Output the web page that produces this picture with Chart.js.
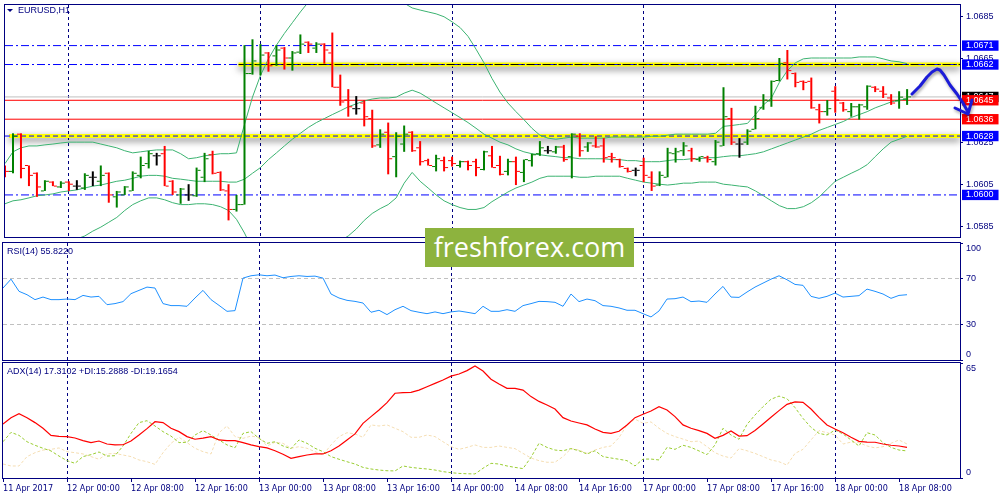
<!DOCTYPE html>
<html>
<head>
<meta charset="utf-8">
<title>EURUSD,H1</title>
<script src="https://cdn.jsdelivr.net/npm/chart.js@4.4.1/dist/chart.umd.min.js"></script>
<style>
  html, body { margin: 0; padding: 0; background: #fff; }
  #wrap { position: relative; width: 1000px; height: 500px; overflow: hidden; background: #fff; }
  #wrap canvas { position: absolute; left: 0; }
  .tag { position: absolute; left: 7px; font: 9px/11px "Liberation Sans", Arial, sans-serif; color: #000080; white-space: nowrap; }
  .tri { display: inline-block; width: 0; height: 0; border-left: 3px solid transparent; border-right: 3px solid transparent; border-top: 3px solid #000080; margin-right: 5px; vertical-align: 1px; }
  #logo { position: absolute; left: 425px; top: 228px; width: 209px; height: 39px; background: #8db33e; color: #fff; font: 27px/38px "Open Sans", sans-serif; text-align: center; }
  #arrow { position: absolute; left: 0; top: 0; filter: drop-shadow(1px 2px 1.5px rgba(0,0,0,0.35)); }
</style>
</head>
<body>
<div id="wrap">
  <canvas id="cMain" width="1000" height="242" style="top:0"></canvas>
  <canvas id="cRsi" width="1000" height="120" style="top:242px"></canvas>
  <canvas id="cAdx" width="1000" height="138" style="top:362px"></canvas>
  <div class="tag" style="top:5px"><span class="tri"></span>EURUSD,H1</div>
  <div class="tag" style="top:246px">RSI(14) 55.8220</div>
  <div class="tag" style="top:366px">ADX(14) 17.3102 +DI:15.2888 -DI:19.1654</div>
  <div id="logo">freshforex.com</div>
  <svg id="arrow" width="1000" height="500">
    <polyline points="912,94 920,86 927,77 932,72 937,69 940,70 944,75 950,85 957,94 963,103 968,112" fill="none" stroke="#1c1cd8" stroke-width="3" stroke-linecap="round" stroke-linejoin="round"/>
    <polyline points="955,108 968,114 972,100" fill="none" stroke="#1c1cd8" stroke-width="3" stroke-linecap="round" stroke-linejoin="round"/>
  </svg>
</div>
<script>
// ---- data (EURUSD H1, one entry per bar, bar 0 = 11 Apr 16:00) ----
const timeLabels = ['11 Apr 2017', '12 Apr 00:00', '12 Apr 08:00', '12 Apr 16:00', '13 Apr 00:00',
  '13 Apr 08:00', '13 Apr 16:00', '14 Apr 00:00', '14 Apr 08:00', '14 Apr 16:00', '17 Apr 00:00',
  '17 Apr 08:00', '17 Apr 16:00', '18 Apr 00:00', '18 Apr 08:00'];
const labelBars = [0, 8, 16, 24, 32, 40, 48, 56, 64, 72, 80, 88, 96, 104, 112];
const dayBars = [8, 32, 56, 80, 104];

const open = [
  1.06135, 1.06112, 1.06289, 1.06140, 1.06103, 1.06019, 1.06061, 1.06038, 1.06061, 1.06042,
  1.06033, 1.06084, 1.06065, 1.06103, 1.05991, 1.06000, 1.06019, 1.06093, 1.06149, 1.06186,
  1.06196, 1.06065, 1.06000, 1.06000, 1.05996, 1.06084, 1.06191, 1.06107, 1.06019, 1.05931,
  1.05954, 1.06577, 1.06619, 1.06675, 1.06661, 1.06698, 1.06651, 1.06679, 1.06726, 1.06698,
  1.06717, 1.06675, 1.06512, 1.06451, 1.06410, 1.06437, 1.06363, 1.06238, 1.06298, 1.06182,
  1.06242, 1.06298, 1.06224, 1.06163, 1.06135, 1.06163, 1.06163, 1.06140, 1.06158, 1.06158,
  1.06121, 1.06186, 1.06140, 1.06112, 1.06158, 1.06107, 1.06163, 1.06196, 1.06210, 1.06205,
  1.06228, 1.06182, 1.06279, 1.06228, 1.06233, 1.06233, 1.06182, 1.06168, 1.06126, 1.06117,
  1.06140, 1.06084, 1.06047, 1.06084, 1.06196, 1.06210, 1.06210, 1.06168, 1.06177, 1.06158,
  1.06233, 1.06363, 1.06242, 1.06251, 1.06312, 1.06414, 1.06447, 1.06544, 1.06628, 1.06577,
  1.06540, 1.06540, 1.06405, 1.06396, 1.06493, 1.06437, 1.06396, 1.06419, 1.06419, 1.06512,
  1.06493, 1.06461, 1.06447, 1.06456];
const high = [
  1.06140, 1.06293, 1.06293, 1.06140, 1.06107, 1.06070, 1.06065, 1.06065, 1.06065, 1.06070,
  1.06103, 1.06112, 1.06140, 1.06107, 1.06019, 1.06042, 1.06112, 1.06182, 1.06210, 1.06200,
  1.06233, 1.06070, 1.06033, 1.06051, 1.06130, 1.06200, 1.06210, 1.06112, 1.06051, 1.06000,
  1.06712, 1.06740, 1.06717, 1.06679, 1.06712, 1.06703, 1.06684, 1.06763, 1.06730, 1.06726,
  1.06721, 1.06772, 1.06572, 1.06503, 1.06470, 1.06451, 1.06405, 1.06312, 1.06344, 1.06298,
  1.06330, 1.06303, 1.06256, 1.06172, 1.06191, 1.06182, 1.06182, 1.06163, 1.06163, 1.06172,
  1.06210, 1.06233, 1.06186, 1.06172, 1.06182, 1.06168, 1.06196, 1.06256, 1.06233, 1.06233,
  1.06238, 1.06293, 1.06293, 1.06251, 1.06279, 1.06270, 1.06200, 1.06172, 1.06130, 1.06130,
  1.06177, 1.06112, 1.06112, 1.06224, 1.06224, 1.06251, 1.06224, 1.06182, 1.06186, 1.06261,
  1.06512, 1.06414, 1.06270, 1.06312, 1.06424, 1.06479, 1.06544, 1.06651, 1.06689, 1.06582,
  1.06544, 1.06558, 1.06433, 1.06451, 1.06517, 1.06442, 1.06437, 1.06433, 1.06521, 1.06517,
  1.06517, 1.06479, 1.06493, 1.06503];
const low = [
  1.06084, 1.06103, 1.06079, 1.06042, 1.05991, 1.06019, 1.06042, 1.06033, 1.06019, 1.06024,
  1.06024, 1.06042, 1.06042, 1.05963, 1.05940, 1.06000, 1.06019, 1.06079, 1.06126, 1.06140,
  1.06042, 1.06000, 1.05958, 1.05972, 1.05991, 1.06061, 1.06098, 1.06019, 1.05879, 1.05921,
  1.05954, 1.06572, 1.06568, 1.06586, 1.06614, 1.06596, 1.06591, 1.06670, 1.06675, 1.06675,
  1.06624, 1.06512, 1.06424, 1.06372, 1.06382, 1.06326, 1.06224, 1.06224, 1.06098, 1.06084,
  1.06205, 1.06205, 1.06140, 1.06140, 1.06112, 1.06112, 1.06135, 1.06130, 1.06117, 1.06089,
  1.06117, 1.06130, 1.06093, 1.06093, 1.06047, 1.06061, 1.06135, 1.06186, 1.06196, 1.06196,
  1.06158, 1.06079, 1.06182, 1.06205, 1.06224, 1.06154, 1.06154, 1.06130, 1.06107, 1.06089,
  1.06061, 1.06019, 1.06042, 1.06084, 1.06154, 1.06186, 1.06158, 1.06158, 1.06154, 1.06140,
  1.06233, 1.06238, 1.06177, 1.06238, 1.06312, 1.06405, 1.06419, 1.06540, 1.06549, 1.06512,
  1.06498, 1.06410, 1.06340, 1.06377, 1.06391, 1.06396, 1.06372, 1.06358, 1.06405, 1.06489,
  1.06461, 1.06428, 1.06410, 1.06428];
const close = [
  1.06112, 1.06279, 1.06126, 1.06093, 1.06038, 1.06065, 1.06042, 1.06056, 1.06051, 1.06042,
  1.06093, 1.06084, 1.06093, 1.06000, 1.06014, 1.06038, 1.06103, 1.06140, 1.06196, 1.06186,
  1.06042, 1.06014, 1.06028, 1.06000, 1.06117, 1.06172, 1.06103, 1.06024, 1.05931, 1.05954,
  1.06577, 1.06637, 1.06665, 1.06614, 1.06689, 1.06651, 1.06675, 1.06717, 1.06717, 1.06717,
  1.06689, 1.06512, 1.06442, 1.06419, 1.06410, 1.06372, 1.06233, 1.06289, 1.06172, 1.06279,
  1.06289, 1.06210, 1.06158, 1.06140, 1.06172, 1.06130, 1.06149, 1.06158, 1.06140, 1.06130,
  1.06205, 1.06130, 1.06098, 1.06158, 1.06112, 1.06168, 1.06191, 1.06224, 1.06210, 1.06228,
  1.06168, 1.06289, 1.06210, 1.06247, 1.06228, 1.06177, 1.06177, 1.06135, 1.06112, 1.06117,
  1.06093, 1.06042, 1.06093, 1.06200, 1.06205, 1.06233, 1.06172, 1.06182, 1.06168, 1.06251,
  1.06372, 1.06251, 1.06242, 1.06303, 1.06363, 1.06451, 1.06540, 1.06624, 1.06591, 1.06535,
  1.06535, 1.06414, 1.06396, 1.06410, 1.06451, 1.06405, 1.06419, 1.06428, 1.06517, 1.06503,
  1.06479, 1.06437, 1.06465, 1.06466];

// Bollinger bands (20, 2)
const bbUpper = [
  1.06149, 1.06205, 1.06224, 1.06233, 1.06233, 1.06238, 1.06242, 1.06247, 1.06251, 1.06251,
  1.06251, 1.06251, 1.06242, 1.06233, 1.06224, 1.06210, 1.06200, 1.06205, 1.06210, 1.06214,
  1.06214, 1.06214, 1.06196, 1.06172, 1.06177, 1.06186, 1.06191, 1.06196, 1.06196, 1.06200,
  1.06335, 1.06465, 1.06568, 1.06647, 1.06712, 1.06768, 1.06819, 1.06870, 1.06917, 1.06954,
  1.06982, 1.07005, 1.07019, 1.07028, 1.07033, 1.07028, 1.07019, 1.07000, 1.06972, 1.06944,
  1.06912, 1.06889, 1.06879, 1.06870, 1.06861, 1.06847, 1.06823, 1.06796, 1.06754, 1.06693,
  1.06628, 1.06554, 1.06489, 1.06437, 1.06396, 1.06358, 1.06317, 1.06284, 1.06270, 1.06265,
  1.06270, 1.06275, 1.06270, 1.06270, 1.06270, 1.06270, 1.06275, 1.06275, 1.06275, 1.06275,
  1.06275, 1.06279, 1.06279, 1.06284, 1.06289, 1.06289, 1.06289, 1.06289, 1.06289, 1.06293,
  1.06326, 1.06330, 1.06335, 1.06340, 1.06382, 1.06428, 1.06461, 1.06535, 1.06591, 1.06628,
  1.06647, 1.06651, 1.06651, 1.06651, 1.06651, 1.06651, 1.06651, 1.06656, 1.06656, 1.06656,
  1.06647, 1.06637, 1.06633, 1.06624];
const bbMiddle = [
  1.05958, 1.05972, 1.05977, 1.05986, 1.05996, 1.06000, 1.06005, 1.06014, 1.06019, 1.06024,
  1.06033, 1.06042, 1.06047, 1.06056, 1.06065, 1.06070, 1.06079, 1.06089, 1.06093, 1.06093,
  1.06089, 1.06079, 1.06075, 1.06070, 1.06065, 1.06065, 1.06065, 1.06065, 1.06061, 1.06061,
  1.06075, 1.06103, 1.06130, 1.06168, 1.06200, 1.06233, 1.06265, 1.06293, 1.06321, 1.06344,
  1.06363, 1.06382, 1.06400, 1.06419, 1.06433, 1.06447, 1.06456, 1.06461, 1.06461, 1.06465,
  1.06484, 1.06498, 1.06484, 1.06461, 1.06437, 1.06414, 1.06391, 1.06368, 1.06344, 1.06317,
  1.06289, 1.06270, 1.06251, 1.06238, 1.06219, 1.06205, 1.06196, 1.06191, 1.06186, 1.06182,
  1.06177, 1.06177, 1.06172, 1.06172, 1.06172, 1.06172, 1.06168, 1.06168, 1.06163, 1.06163,
  1.06158, 1.06158, 1.06158, 1.06163, 1.06168, 1.06168, 1.06172, 1.06172, 1.06177, 1.06177,
  1.06182, 1.06186, 1.06186, 1.06191, 1.06196, 1.06205, 1.06219, 1.06233, 1.06247, 1.06261,
  1.06275, 1.06289, 1.06307, 1.06321, 1.06335, 1.06349, 1.06368, 1.06382, 1.06396, 1.06414,
  1.06428, 1.06442, 1.06451, 1.06456];
const bbLower = [
  1.05731, 1.05717, 1.05717, 1.05726, 1.05735, 1.05744, 1.05754, 1.05768, 1.05777, 1.05791,
  1.05805, 1.05828, 1.05847, 1.05870, 1.05893, 1.05926, 1.05954, 1.05972, 1.05986, 1.05986,
  1.05977, 1.05963, 1.05954, 1.05954, 1.05958, 1.05958, 1.05954, 1.05944, 1.05926, 1.05884,
  1.05819, 1.05740, 1.05693, 1.05689, 1.05689, 1.05698, 1.05712, 1.05717, 1.05726, 1.05735,
  1.05744, 1.05758, 1.05782, 1.05805, 1.05838, 1.05879, 1.05912, 1.05935, 1.05954, 1.05986,
  1.06056, 1.06107, 1.06065, 1.06033, 1.06000, 1.05972, 1.05954, 1.05940, 1.05931, 1.05931,
  1.05940, 1.05968, 1.05991, 1.06014, 1.06033, 1.06047, 1.06061, 1.06079, 1.06089, 1.06089,
  1.06089, 1.06089, 1.06084, 1.06084, 1.06089, 1.06089, 1.06089, 1.06089, 1.06079, 1.06070,
  1.06061, 1.06056, 1.06051, 1.06047, 1.06051, 1.06056, 1.06056, 1.06061, 1.06061, 1.06061,
  1.06051, 1.06047, 1.06042, 1.06038, 1.06019, 1.05996, 1.05972, 1.05949, 1.05935, 1.05935,
  1.05944, 1.05963, 1.05991, 1.06028, 1.06065, 1.06084, 1.06103, 1.06121, 1.06144, 1.06182,
  1.06219, 1.06251, 1.06265, 1.06279];

const rsi = [
  61.5, 69.1, 58.7, 55.8, 51.6, 53.8, 51.6, 51.6, 52.1, 51.6,
  55.2, 53.8, 54.4, 47.3, 48.2, 49.9, 56.7, 59.5, 62.3, 61.5,
  48.2, 46.5, 46.5, 45.9, 53.0, 59.5, 51.6, 46.7, 41.6, 42.2,
  70.0, 72.0, 72.8, 72.0, 72.6, 70.3, 71.4, 72.0, 71.4, 71.7,
  70.0, 56.4, 53.0, 51.0, 50.1, 48.7, 40.8, 42.5, 38.8, 43.0,
  45.9, 42.2, 40.8, 39.6, 41.1, 39.6, 41.1, 41.9, 40.8, 39.6,
  45.9, 41.6, 41.6, 43.0, 41.6, 46.5, 48.2, 50.1, 49.9, 49.3,
  45.9, 56.4, 49.9, 52.1, 50.7, 46.5, 45.9, 44.5, 42.5, 42.5,
  39.6, 36.8, 41.9, 52.1, 52.4, 53.8, 49.9, 50.4, 49.3, 56.4,
  62.9, 53.8, 53.5, 58.1, 62.3, 65.7, 69.1, 72.0, 68.6, 64.6,
  63.8, 54.4, 52.7, 54.4, 57.2, 53.8, 54.4, 55.0, 60.6, 58.7,
  56.4, 52.7, 55.2, 55.8];

const adx = [
  30.5, 34.1, 36.4, 34.1, 31.3, 28.1, 24.1, 23.5, 23.4, 22.6,
  21.1, 20.0, 20.9, 19.2, 18.7, 18.8, 20.9, 24.3, 27.9, 31.8,
  31.3, 28.1, 26.2, 23.4, 21.9, 22.5, 23.4, 21.5, 21.1, 21.1,
  20.0, 18.7, 17.7, 17.0, 15.4, 13.4, 11.1, 12.1, 13.0, 13.6,
  13.6, 15.4, 18.1, 21.5, 24.9, 30.9, 34.7, 38.4, 42.6, 47.9,
  48.2, 48.4, 49.7, 51.6, 53.5, 55.4, 57.6, 58.8, 60.7, 63.3,
  60.5, 55.8, 53.1, 50.7, 50.7, 49.7, 46.0, 43.3, 41.3, 39.0,
  34.1, 32.2, 31.1, 30.0, 27.7, 25.8, 25.2, 26.4, 30.0, 34.1,
  36.0, 37.9, 40.3, 38.4, 34.7, 30.0, 28.1, 26.8, 25.2, 22.4,
  24.1, 26.6, 23.7, 23.9, 26.8, 30.5, 34.3, 38.1, 41.6, 43.0,
  42.8, 39.0, 34.3, 30.0, 27.7, 25.6, 23.0, 20.7, 20.3, 20.2,
  19.2, 18.5, 18.1, 17.3];
const plusDI = [
  20.5, 25.8, 24.1, 20.5, 18.5, 16.8, 15.3, 12.4, 9.8, 8.3,
  12.1, 13.2, 14.7, 12.4, 12.6, 18.1, 25.2, 31.3, 32.4, 29.4,
  26.2, 23.7, 20.0, 20.2, 24.3, 26.8, 24.3, 21.5, 18.7, 17.1,
  25.2, 26.2, 22.4, 19.6, 20.5, 18.1, 16.6, 21.5, 19.6, 16.8,
  14.9, 12.1, 10.6, 9.2, 7.9, 6.0, 5.1, 4.5, 4.1, 4.0,
  6.8, 6.0, 5.5, 5.1, 4.5, 3.6, 3.0, 2.6, 2.4, 2.3,
  5.5, 8.3, 7.9, 6.8, 6.0, 5.3, 11.7, 19.6, 17.3, 15.8,
  15.4, 16.6, 15.4, 13.6, 15.4, 12.1, 11.3, 10.6, 9.8, 6.8,
  10.7, 10.7, 10.2, 17.3, 16.2, 18.5, 17.3, 15.3, 13.2, 18.7,
  28.1, 24.3, 21.9, 30.3, 35.6, 40.3, 44.5, 46.3, 44.8, 39.8,
  33.7, 28.6, 25.2, 24.3, 27.1, 24.9, 21.5, 18.1, 25.6, 24.3,
  20.0, 17.3, 15.8, 15.3];
const minusDI = [
  7.9, 6.8, 6.8, 12.1, 14.3, 15.8, 16.2, 17.0, 14.9, 14.3,
  13.6, 12.1, 10.6, 13.6, 13.9, 13.0, 12.1, 10.2, 9.2, 7.7,
  14.3, 19.6, 23.0, 20.0, 16.8, 14.9, 13.6, 25.6, 29.4, 23.4,
  22.4, 23.7, 23.0, 18.1, 20.2, 19.6, 16.8, 17.7, 16.8, 14.9,
  13.0, 18.7, 23.4, 25.6, 24.9, 23.0, 30.0, 29.4, 30.0, 28.1,
  26.2, 23.0, 23.0, 24.3, 23.4, 20.5, 17.7, 16.2, 17.3, 18.7,
  17.3, 17.3, 18.1, 17.3, 16.6, 13.9, 11.3, 9.8, 8.9, 8.9,
  12.1, 16.6, 15.8, 13.9, 15.8, 17.3, 18.1, 22.8, 30.0, 33.3,
  30.9, 31.7, 28.1, 25.2, 23.4, 22.0, 20.5, 20.9, 17.7, 14.3,
  12.4, 11.3, 16.6, 15.4, 13.9, 12.1, 10.2, 9.2, 7.3, 13.9,
  16.2, 21.5, 26.8, 25.6, 24.3, 19.2, 20.3, 20.0, 18.1, 17.0,
  17.7, 19.6, 21.5, 19.2];

// price axis and drawn levels
const priceTicks = [1.0685, 1.0665, 1.0645, 1.0625, 1.0605, 1.0585];
const blueLevels = [1.0671, 1.0662, 1.0600];
const redLevels = [1.0645, 1.0636];
const zoneLevels = [1.0662, 1.0628];
const zoneStart = [29.25, 0.5];
const bid = close[close.length - 1];
const rsiTicks = [100, 70, 30, 0];
const rsiLevels = [70, 30];
const adxTicks = [65, 0];

// ---- styling ----
const NAVY = '#000080';
const CLEAR = 'rgba(0,0,0,0)';
const GREEN = '#008000';
const BB = '#3cb371';
const AXIS_FAMILY = '"Liberation Sans", Arial, sans-serif';
const TIME_FONT = { family: '"Liberation Sans Narrow", "DejaVu Sans Condensed", Arial, sans-serif', size: 9 };
const xMax = 119.625;     // 957 px of plot at 8 px per bar
const tickShift = 0.3125; // open/close ticks sit 2.5 px beside the bar

function barColor(i) {
  if (close[i] > open[i]) return GREEN;
  if (close[i] < open[i]) return '#ff0000';
  return '#000000';
}
const pts = arr => arr.map((v, i) => ({ x: i, y: v }));

function hLine(y, from, color, width, dash, order, shadow) {
  return {
    type: 'line', data: [{ x: from, y: y }, { x: xMax, y: y }],
    borderColor: color, borderWidth: width, borderDash: dash || [],
    pointRadius: 0, order: order, shadow: !!shadow
  };
}

// edge labels of indicator windows sit inside the frame, like the terminal does
function edgeLabel(v, min, max) {
  if (v === max) return ['', String(v)];
  if (v === min) return [String(v), ''];
  return String(v);
}

// keep the plot area fixed: labels may overhang it
function noLabelPadding(s) {
  s.paddingTop = 0; s.paddingBottom = 0; s.paddingLeft = 0; s.paddingRight = 0;
}

const framePlugin = {
  id: 'frame',
  afterDraw(chart) {
    const { ctx, chartArea: a } = chart;
    ctx.save();
    ctx.strokeStyle = NAVY;
    ctx.lineWidth = 1;
    ctx.strokeRect(a.left - 0.5, a.top - 0.5, a.right - a.left + 1, a.bottom - a.top + 1);
    ctx.restore();
  }
};

const shadowPlugin = {
  id: 'shadow',
  beforeDatasetDraw(chart, args) {
    if (!chart.data.datasets[args.index].shadow) return;
    const c = chart.ctx;
    c.save();
    c.shadowColor = 'rgba(0,0,0,0.55)';
    c.shadowBlur = 7;
    c.shadowOffsetY = 3;
  },
  afterDatasetDraw(chart, args) {
    if (chart.data.datasets[args.index].shadow) chart.ctx.restore();
  }
};

function xAxis(showLabels) {
  return {
    type: 'linear', min: 0, max: xMax, bounds: 'data', offset: false,
    afterBuildTicks: s => { s.ticks = labelBars.map(v => ({ value: v })); },
    afterFit: s => { s.height = showLabels ? 22 : 0; noLabelPadding(s); },
    grid: {
      offset: false,
      color: c => (c.tick && dayBars.includes(c.tick.value)) ? NAVY : CLEAR,
      lineWidth: 1, drawTicks: showLabels, tickLength: 4,
      tickColor: NAVY, tickBorderDash: []
    },
    border: { display: false, dash: [3, 3] },
    ticks: {
      display: showLabels, autoSkip: false, maxRotation: 0, minRotation: 0,
      align: 'start', padding: 1, color: NAVY, font: TIME_FONT,
      callback: v => timeLabels[labelBars.indexOf(v)]
    }
  };
}

function baseOptions(padding, showX, yScale) {
  return {
    responsive: false, animation: false, events: [],
    layout: { padding: padding },
    plugins: { legend: { display: false }, tooltip: { enabled: false } },
    scales: { x: xAxis(showX), y: yScale }
  };
}

// ---- main window: bars, Bollinger bands, levels ----
const yTickList = priceTicks.map(v => ({ v: v, text: v.toFixed(4), bg: CLEAR, fg: NAVY }))
  .concat([{ v: bid, text: bid.toFixed(4), bg: '#000000', fg: '#ffffff' }])
  .concat([1.0671, 1.0662].map(v => ({ v: v, text: v.toFixed(4), bg: '#0000ff', fg: '#ffffff' })))
  .concat(redLevels.map(v => ({ v: v, text: v.toFixed(4), bg: '#ff0000', fg: '#ffffff' })))
  .concat([1.0628, 1.0600].map(v => ({ v: v, text: v.toFixed(4), bg: '#0000ff', fg: '#ffffff' })));

const mainSets = [];
zoneLevels.forEach((v, k) => mainSets.push(hLine(v, zoneStart[k], '#ffff00', 4, [], 20, true)));
blueLevels.forEach(v => mainSets.push(hLine(v, 0, '#0000ff', 1, [8, 3, 2, 3], 19)));
mainSets.push(hLine(zoneLevels[0], zoneStart[0], '#000000', 1, [8, 3, 2, 3], 18));
mainSets.push(hLine(zoneLevels[1], 0, '#0000ff', 1, [5, 3], 18));
redLevels.forEach(v => mainSets.push(hLine(v, 0, '#ff0000', 1, [], 17)));
mainSets.push(hLine(bid, 0, '#c0c0c0', 1, [], 17));
[bbUpper, bbMiddle, bbLower].forEach(arr => mainSets.push({
  type: 'line', data: pts(arr), borderColor: BB, borderWidth: 1, pointRadius: 0, order: 10
}));
mainSets.push({
  type: 'bar', data: low.map((l, i) => ({ x: i, y: [l, high[i]] })),
  backgroundColor: c => barColor(c.dataIndex), borderWidth: 0,
  barThickness: 2, grouped: false, inflateAmount: 0, order: 3
});
[[open, -tickShift], [close, tickShift]].forEach(([arr, dx]) => mainSets.push({
  type: 'line', showLine: false, data: arr.map((v, i) => ({ x: i + dx, y: v })),
  pointStyle: 'line', pointRadius: 1.5, pointBorderWidth: 1,
  pointBorderColor: c => barColor(c.dataIndex), order: 2
}));

new Chart(document.getElementById('cMain'), {
  type: 'line',
  data: { datasets: mainSets },
  options: baseOptions({ left: 3, top: 3, right: 0, bottom: 2 }, false, {
    position: 'right', min: 1.058, max: 1.06903, bounds: 'data',
    afterFit: s => { s.width = 40; noLabelPadding(s); },
    afterBuildTicks: s => { s.ticks = yTickList.map(t => ({ value: t.v })); },
    grid: {
      drawOnChartArea: false, drawTicks: true, tickLength: 3, tickBorderDash: [],
      color: c => c.index < priceTicks.length ? NAVY : CLEAR
    },
    border: { display: false },
    ticks: {
      padding: 3, autoSkip: false,
      font: { family: AXIS_FAMILY, size: 9, lineHeight: 1.15 },
      color: c => yTickList[c.index] ? yTickList[c.index].fg : NAVY,
      showLabelBackdrop: true,
      backdropColor: c => yTickList[c.index] ? yTickList[c.index].bg : CLEAR,
      backdropPadding: { top: 0, bottom: 0, left: 4, right: 5 },
      callback: (v, i) => yTickList[i].text
    }
  }),
  plugins: [shadowPlugin, framePlugin]
});

// ---- RSI window ----
new Chart(document.getElementById('cRsi'), {
  type: 'line',
  data: { datasets: [{ data: pts(rsi), borderColor: '#1e90ff', borderWidth: 1, pointRadius: 0 }] },
  options: baseOptions({ left: 3, top: 1, right: 0, bottom: 2 }, false, {
    position: 'right', min: 0, max: 100, bounds: 'data',
    afterFit: s => { s.width = 40; noLabelPadding(s); },
    afterBuildTicks: s => { s.ticks = rsiTicks.map(v => ({ value: v })); },
    grid: {
      color: c => (c.tick && rsiLevels.includes(c.tick.value)) ? '#c0c0c0' : CLEAR,
      drawTicks: true, tickLength: 3, tickColor: NAVY, tickBorderDash: []
    },
    border: { display: false, dash: [4, 3] },
    ticks: {
      padding: 3, autoSkip: false, color: NAVY,
      font: { family: AXIS_FAMILY, size: 9, lineHeight: 1.3 },
      callback: v => edgeLabel(v, 0, 100)
    }
  }),
  plugins: [framePlugin]
});

// ---- ADX window ----
new Chart(document.getElementById('cAdx'), {
  type: 'line',
  data: {
    datasets: [
      { data: pts(minusDI), borderColor: '#f5deb3', borderWidth: 1, borderDash: [3, 2], pointRadius: 0, order: 3 },
      { data: pts(plusDI), borderColor: '#9acd32', borderWidth: 1, borderDash: [3, 2], pointRadius: 0, order: 2 },
      { data: pts(adx), borderColor: '#ff0000', borderWidth: 1.2, pointRadius: 0, order: 1 }
    ]
  },
  options: baseOptions({ left: 3, top: 1, right: 0, bottom: 0 }, true, {
    position: 'right', min: 0, max: 65, bounds: 'data',
    afterFit: s => { s.width = 40; noLabelPadding(s); },
    afterBuildTicks: s => { s.ticks = adxTicks.map(v => ({ value: v })); },
    grid: { drawOnChartArea: false, drawTicks: true, tickLength: 3, color: NAVY, tickBorderDash: [] },
    border: { display: false },
    ticks: {
      padding: 3, autoSkip: false, color: NAVY,
      font: { family: AXIS_FAMILY, size: 9, lineHeight: 1.3 },
      callback: v => edgeLabel(v, 0, 65)
    }
  }),
  plugins: [framePlugin]
});
</script>
</body>
</html>
